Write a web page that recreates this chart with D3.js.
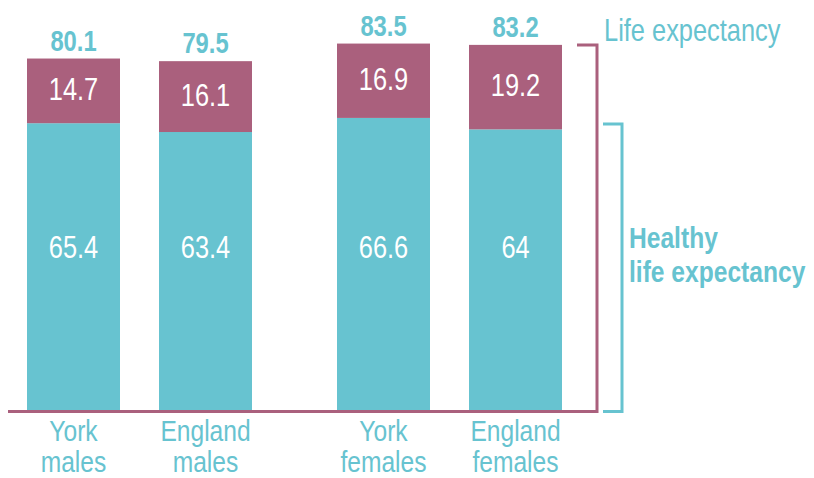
<!DOCTYPE html>
<html>
<head>
<meta charset="utf-8">
<script src="https://cdn.jsdelivr.net/npm/d3@7"></script>
<style>
  body { margin: 0; background: #fff; }
  text { font-family: "Liberation Sans", Arial, sans-serif; }
</style>
</head>
<body>
<div id="chart"></div>
<script>
// data
var groups = ["males", "females"];
var places = ["York", "England"];
var healthy = [65.4, 63.4, 66.6, 64];
var unhealthy = [14.7, 16.1, 16.9, 19.2];
var totals = [80.1, 79.5, 83.5, 83.2];
var bracketTops = [83.2, 65.2]; // life expectancy / healthy life expectancy

var teal = "#67c3d0";
var mauve = "#aa607d";
var narrow = 0.82; // squeeze text sideways, the original font is condensed

var svgWidth = 814;
var svgHeight = 478;

var rows = [];
groups.forEach(function(g, gi) {
  places.forEach(function(p, pi) {
    var i = gi * 2 + pi;
    rows.push({ group: g, place: p, healthy: healthy[i], unhealthy: unhealthy[i], total: totals[i] });
  });
});

var svg = d3.select("#chart")
  .append("svg")
  .attr("width", svgWidth)
  .attr("height", svgHeight);

// outer band per sex, inner band per place
var x0 = d3.scaleBand()
  .domain(groups)
  .range([27, 562])
  .paddingInner(85 / 310)
  .paddingOuter(0);

var x1 = d3.scaleBand()
  .domain(places)
  .range([0, x0.bandwidth()])
  .paddingInner(39 / 132)
  .paddingOuter(0);

var y = d3.scaleLinear()
  .domain([0, 93.4])
  .range([411, 0]);

var xPos = d => x0(d.group) + x1(d.place);
var xMid = d => xPos(d) + x1.bandwidth() / 2;

function at(xf, yf) {
  return function(d) {
    var xx = typeof xf === "function" ? xf(d) : xf;
    var yy = typeof yf === "function" ? yf(d) : yf;
    return `translate(${xx},${yy}) scale(${narrow},1)`;
  };
}

var stack = d3.stack().keys(["healthy", "unhealthy"]);
var series = stack(rows);
var colors = { healthy: teal, unhealthy: mauve };

svg.selectAll(".layer")
  .data(series)
  .enter()
  .append("g")
  .attr("class", "layer")
  .attr("fill", s => colors[s.key])
  .selectAll("rect")
  .data(s => s)
  .enter()
  .append("rect")
  .attr("x", d => xPos(d.data))
  .attr("y", d => y(d[1]))
  .attr("width", x1.bandwidth())
  .attr("height", d => y(d[0]) - y(d[1]));

// totals above the bars
svg.selectAll(".total")
  .data(rows)
  .enter()
  .append("text")
  .attr("class", "total")
  .attr("transform", at(xMid, d => y(d.total) - 8))
  .attr("text-anchor", "middle")
  .attr("fill", teal)
  .style("font-weight", "bold")
  .style("font-size", "29px")
  .text(d => d.total);

// unhealthy years, in the mauve part
svg.selectAll(".unh")
  .data(rows)
  .enter()
  .append("text")
  .attr("class", "unh")
  .attr("transform", at(xMid, d => (y(d.total) + y(d.healthy)) / 2 - 2))
  .attr("dy", "0.36em")
  .attr("text-anchor", "middle")
  .attr("fill", "#fff")
  .style("font-size", "31px")
  .text(d => d.unhealthy);

// healthy years, all on one line
svg.selectAll(".hl")
  .data(rows)
  .enter()
  .append("text")
  .attr("class", "hl")
  .attr("transform", at(xMid, y(37.3)))
  .attr("dy", "0.36em")
  .attr("text-anchor", "middle")
  .attr("fill", "#fff")
  .style("font-size", "31px")
  .text(d => d.healthy);

// category labels under the axis
var cat = svg.selectAll(".cat")
  .data(rows)
  .enter()
  .append("text")
  .attr("class", "cat")
  .attr("transform", at(xMid, y(0)))
  .attr("text-anchor", "middle")
  .attr("fill", teal)
  .style("font-size", "30px");

cat.append("tspan")
  .attr("x", 0)
  .attr("y", 30)
  .text(d => d.place);

cat.append("tspan")
  .attr("x", 0)
  .attr("y", 61)
  .text(d => d.group);

// baseline + life expectancy bracket
var bx = 597;
svg.append("path")
  .attr("d", `M8,${y(0) + 0.5} H${bx} V${y(bracketTops[0])} H${bx - 20}`)
  .attr("fill", "none")
  .attr("stroke", mauve)
  .attr("stroke-width", 3);

// healthy life expectancy bracket
svg.append("path")
  .attr("d", `M603,${y(0) + 0.5} H622 V${y(bracketTops[1])} H603`)
  .attr("fill", "none")
  .attr("stroke", teal)
  .attr("stroke-width", 3);

svg.append("text")
  .attr("transform", at(604, 41))
  .attr("fill", teal)
  .style("font-size", "31px")
  .text("Life expectancy");

var hle = svg.append("text")
  .attr("transform", at(629, 248))
  .attr("fill", teal)
  .style("font-weight", "bold")
  .style("font-size", "30px");

hle.append("tspan").attr("x", 0).attr("y", 0).text("Healthy");
hle.append("tspan").attr("x", 0).attr("y", 34).text("life expectancy");
</script>
</body>
</html>
